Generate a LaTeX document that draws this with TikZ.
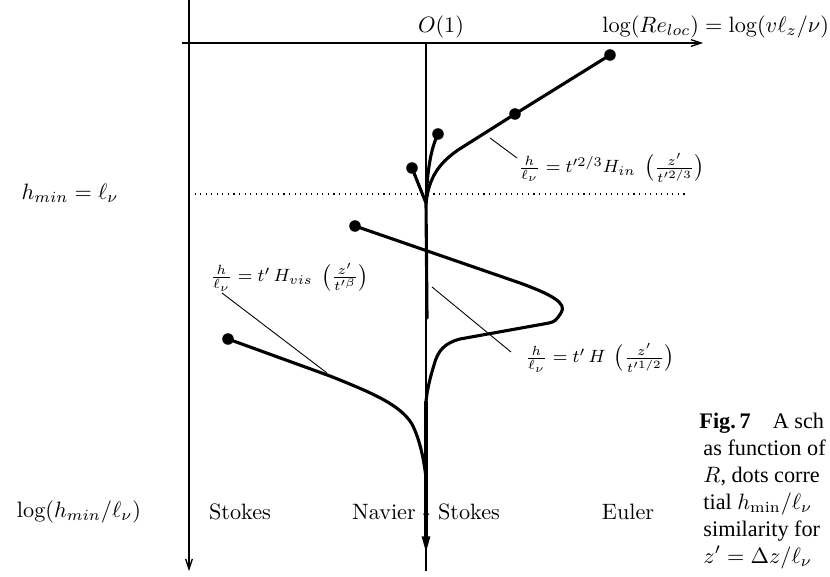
\documentclass[tikz,border=0pt]{standalone}
\usepackage{fontspec}
\newfontfamily\capfont{Liberation Serif}
\usetikzlibrary{arrows.meta}
\begin{document}
\begin{tikzpicture}[x=0.45pt,y=-0.45pt,
  curve/.style={line width=1.4pt, line join=round, line cap=round},
  axis/.style={line width=0.6pt},
  leader/.style={line width=0.4pt},
  dot/.style={circle, fill=black, inner sep=0pt, minimum size=5.2pt},
  lbl/.style={inner sep=0pt, font=\fontsize{10}{12}\selectfont},
  flbl/.style={inner sep=0pt, anchor=west, font=\fontsize{8.2}{10}\selectfont},
  captxt/.style={anchor=base west, inner sep=0pt, font=\capfont\fontsize{10}{12}\selectfont}]
\clip (0,0) rectangle (830,576);
% axes
\coordinate (hl) at (182,43);
\coordinate (hr) at (703,43);
\coordinate (vt) at (189,0);
\coordinate (vb) at (189,571);
\coordinate (ct) at (426,43);
\coordinate (cb) at (426,571);
\coordinate (dl) at (189,194);
\coordinate (dr) at (685,194);
\draw[axis,-{Straight Barb[length=4.5pt,width=3pt]}] (hl) -- (hr);
\draw[axis,-{Straight Barb[length=4.5pt,width=3pt]}] (vt) -- (vb);
\draw[axis] (ct) -- (cb);
\draw[dotted,line width=0.5pt] (dl) -- (dr);
% dots
\node[dot] (d1) at (610,55) {};
\node[dot] (d2) at (515,114) {};
\node[dot] (d3) at (438,134) {};
\node[dot] (d4) at (412,168) {};
\node[dot] (d5) at (355,226) {};
\node[dot] (d6) at (228,339) {};
\coordinate (m1) at (426,203);
\coordinate (t1) at (427,318);
\coordinate (m2) at (426,402);
\coordinate (m3) at (426,478);
\coordinate (tip) at (426,553);
% curves
\draw[curve] (d1.center) -- (d2.center) -- (458,150) .. controls (438,164) and (429,178) .. (m1);
\draw[curve] (d3.center) .. controls (430,150) and (427,175) .. (m1);
\draw[curve] (d4.center) -- (m1) -- (t1);
\draw[curve] (d5.center) -- (520,283) .. controls (550,294) and (568,303) .. (561,313)
  .. controls (557,319) and (555,322) .. (549,323) -- (460,339)
  .. controls (445,343) and (438,350) .. (434,365) .. controls (430,378) and (427,390) .. (m2);
\draw[curve] (d6.center) -- (330,376) .. controls (375,394) and (400,405) .. (412,424)
  .. controls (420,440) and (424,460) .. (m3);
\draw[curve,-{Triangle[length=7.5pt,width=3.5pt]}] (m2) -- (tip);
% labels
\node[lbl] (o1) at (441,27) {$O(1)$};
\node[lbl,anchor=west] (re) at (602,27) {$\log(Re_{loc}) = \log(v\ell_z/\nu)$};
\node[lbl] (hmin) at (70,193) {$h_{min} = \ell_\nu$};
\node[lbl] (lg) at (79,512) {$\log(h_{min}/\ell_\nu)$};
\node[lbl] (st) at (240,512) {Stokes};
\node[lbl] (ns) at (426,512) {Navier - Stokes};
\node[lbl] (eu) at (628,512) {Euler};
\node[flbl] (fin) at (518,168) {$\frac{h}{\ell_\nu} = t^{\prime 2/3} H_{in}\;\left(\frac{z'}{t^{\prime 2/3}}\right)$};
\node[flbl] (fvis) at (210,277) {$\frac{h}{\ell_\nu} = t'\,H_{vis}\;\left(\frac{z'}{t^{\prime\beta}}\right)$};
\node[flbl] (fh) at (525,358) {$\frac{h}{\ell_\nu} = t'\,H\;\left(\frac{z'}{t^{\prime 1/2}}\right)$};
% leaders
\coordinate (a1) at (490,138); \coordinate (b1) at (517,158);
\coordinate (a2) at (327,373); \coordinate (b2) at (222,293);
\coordinate (a3) at (432,287); \coordinate (b3) at (511,352);
\draw[leader] (a1) -- (b1);
\draw[leader] (a2) -- (b2);
\draw[leader] (a3) -- (b3);
% caption
\node[captxt] (c1) at (699,428) {\textbf{Fig.\,7}\hspace{1em}A sch};
\node[captxt] (c2) at (703,455) {as function of};
\node[captxt] (c3) at (703,482) {$R$, dots corre};
\node[captxt] (c4) at (703,509) {tial $h_{\mathrm{min}}/\ell_\nu$};
\node[captxt] (c5) at (703,536) {similarity for};
\node[captxt] (c6) at (703,563) {$z' = \Delta z/\ell_\nu$};
\end{tikzpicture}
\end{document}
